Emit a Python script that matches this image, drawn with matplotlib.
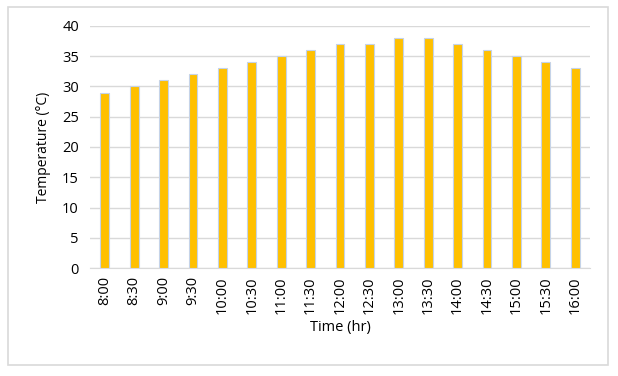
import matplotlib.pyplot as plt
from matplotlib.patches import Rectangle

times = ['8:00', '8:30', '9:00', '9:30', '10:00', '10:30', '11:00', '11:30', '12:00',
         '12:30', '13:00', '13:30', '14:00', '14:30', '15:00', '15:30', '16:00']
temps = [29, 30, 31, 32, 33, 34, 35, 36, 37, 37, 38, 38, 37, 36, 35, 34, 33]

plt.rcParams['font.family'] = ['Open Sans', 'DejaVu Sans']

fig = plt.figure(figsize=(6.18, 3.76), dpi=100)
fig.patches.append(Rectangle((8 / 618, 1 - 365 / 376), 600 / 618, 358 / 376,
                             transform=fig.transFigure, fill=False,
                             edgecolor='#d9d9d9', linewidth=1.2))

ax = fig.add_axes([90 / 618, 1 - 268 / 376, 500 / 618, 242 / 376])
x = range(len(times))
ax.bar(x, temps, width=0.3, color='#FFC000', edgecolor='#c5d3e8', linewidth=0.8, zorder=3)

ax.set_xlim(-0.5, len(times) - 0.5)
ax.set_ylim(0, 40)
ax.set_yticks(range(0, 41, 5))
ax.set_xticks(list(x))
ax.set_xticklabels(times, rotation=90, fontsize=10.5)
ax.tick_params(axis='y', labelsize=10.5, length=0, pad=8)
ax.tick_params(axis='x', length=0, pad=6)
ax.grid(axis='y', color='#d9d9d9', linewidth=1, zorder=0)
for s in ['top', 'right', 'left']:
    ax.spines[s].set_visible(False)
ax.spines['bottom'].set_color('#d9d9d9')

ax.set_ylabel('Temperature (°C)', fontsize=10, labelpad=8)
ax.set_xlabel('Time (hr)', fontsize=10.5, labelpad=4)

fig.savefig('out.png', dpi=100)
